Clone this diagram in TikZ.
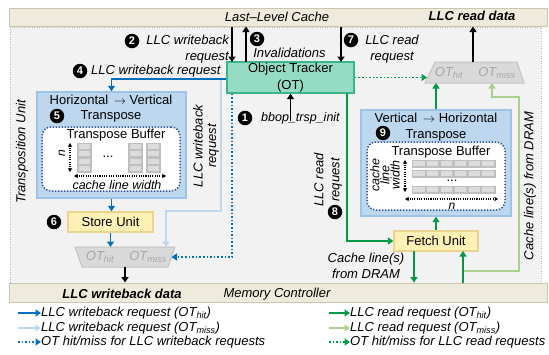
\documentclass[tikz,border=0pt]{standalone}
\usepackage{fontspec}
\setmainfont{Liberation Sans}
\usetikzlibrary{arrows.meta}
\definecolor{bandfill}{HTML}{EEEBDC}
\definecolor{banddraw}{HTML}{CBC6B0}
\definecolor{areafill}{HTML}{F2F2F2}
\definecolor{areadraw}{HTML}{BDBDBD}
\definecolor{otfill}{HTML}{96DCC4}
\definecolor{otdraw}{HTML}{3AB689}
\definecolor{tbfill}{HTML}{BDD7EE}
\definecolor{tbdraw}{HTML}{9DC3E6}
\definecolor{sufill}{HTML}{FFF1B5}
\definecolor{sudraw}{HTML}{EBD58C}
\definecolor{muxfill}{HTML}{D9D9D9}
\definecolor{muxdraw}{HTML}{C4C4C4}
\definecolor{muxtext}{HTML}{A6A6A6}
\definecolor{wbblue}{HTML}{0070C0}
\definecolor{wblight}{HTML}{BDD7EE}
\definecolor{rdgreen}{HTML}{009A47}
\definecolor{rdlight}{HTML}{A9D18E}
\definecolor{bufdot}{HTML}{2F5597}
\definecolor{cellfill}{HTML}{DCDCDC}
\definecolor{celldraw}{HTML}{BFBFBF}
\begin{document}
\begin{tikzpicture}[x=1pt,y=-1pt,
  font=\fontsize{13}{15}\selectfont,
  >={Triangle[length=5.5pt,width=7pt]},
  every node/.style={inner sep=0pt},
  unitbox/.style={draw, line width=1.4pt, align=center},
  numc/.style={circle, fill=black, text=white, minimum size=14.5pt, font=\fontsize{11}{11}\selectfont\bfseries},
  itl/.style={font=\fontsize{13}{16}\selectfont\itshape, align=center},
  bolditl/.style={font=\fontsize{13}{15}\selectfont\bfseries\itshape},
  muxtxt/.style={font=\fontsize{13}{15}\selectfont\itshape, text=muxtext},
  wbarr/.style={draw=wbblue, line width=1.8pt, ->},
  wblarr/.style={draw=wblight, line width=1.8pt, ->},
  wbdot/.style={draw=wbblue, line width=1.8pt, dash pattern=on 1.6pt off 2pt, ->},
  rdarr/.style={draw=rdgreen, line width=1.8pt, ->},
  rdlarr/.style={draw=rdlight, line width=1.8pt, ->},
  rddot/.style={draw=rdgreen, line width=1.8pt, dash pattern=on 1.6pt off 2pt, ->},
  blkarr/.style={draw=black, line width=1.5pt, ->},
  dimarr/.style={line width=1.1pt, dash pattern=on 1.1pt off 1.2pt, {Stealth[length=4pt,width=4.5pt]}-{Stealth[length=4pt,width=4.5pt]}},
  cellbg/.style={fill=celldraw, draw=celldraw, line width=0.6pt},
  cell/.style={fill=cellfill, draw=none},
  band/.style={fill=bandfill, draw=banddraw, line width=1pt, minimum width=538pt},
  bufbox/.style={draw=bufdot, fill=white, line width=1.5pt, dash pattern=on 1.4pt off 1.6pt, rounded corners=9pt}
]
\useasboundingbox (0,0) rectangle (549,354);

% background area and bands
\node[fill=areafill, draw=areadraw, line width=0.8pt, dash pattern=on 1pt off 1.5pt, minimum width=531pt, minimum height=256pt] (area) at (275.5,155) {};
\node[band, minimum height=18pt] (llc) at (278,17) {};
\node[band, minimum height=19pt] (mc) at (278,292.5) {};
\node[itl] (llct) at (277,17) {Last\textendash Level Cache};
\node[bolditl] (rdd) at (472,16) {LLC read data};
\node[bolditl] (wbd) at (122,294) {LLC writeback data};
\node[itl] (mct) at (277,294) {Memory Controller};

% transposition unit label
\node[itl, rotate=90] (tul) at (22,152) {Transposition Unit};

% Object tracker
\node[unitbox, fill=otfill, draw=otdraw, minimum width=127pt, minimum height=31pt, font=\fontsize{13}{17}\selectfont] (ot) at (290.5,77.5) {Object Tracker\\(OT)};

% Horizontal -> Vertical transpose
\node[unitbox, fill=tbfill, draw=tbdraw, minimum width=149pt, minimum height=106pt] (hv) at (111.5,145) {};
\node (hvt1) at (111,100) {Horizontal\, $\rightarrow$ Vertical};
\node (hvt2) at (111,116) {Transpose};
\node[numc] (n5) at (57,116) {5};
\node[bufbox, minimum width=138pt, minimum height=64pt] (hvb) at (111,159) {};
\node (hvbt) at (116,135) {Transpose Buffer};
\foreach \sx in {77,128,146} {
  \draw[cellbg] (\sx,143) rectangle (\sx+14,172);
  \foreach \k in {0,...,3} {
    \fill[cell] (\sx+1.5,143+\k*7.25+1.2) rectangle (\sx+12.5,143+\k*7.25+6.2);
  }
}
\node (hvdots) at (108,157) {...};
\node[font=\fontsize{12}{12}\selectfont\itshape, rotate=90] (hvn) at (62,153) {n};
\coordinate (hvd1) at (70,143);
\coordinate (hvd2) at (70,172);
\draw[dimarr] (hvd1) -- (hvd2);
\coordinate (hvw1) at (74,176);
\coordinate (hvw2) at (166,176);
\draw[dimarr] (hvw1) -- (hvw2);
\node[font=\fontsize{12.5}{14}\selectfont\itshape] (hvwt) at (117,185) {cache line width};

% Store unit
\node[unitbox, fill=sufill, draw=sudraw, minimum width=85pt, minimum height=20pt] (su) at (110.5,222) {Store Unit};
\node[numc] (n6) at (54,222) {6};

% writeback mux
\draw[fill=muxfill, draw=muxdraw, line width=1pt] (75,247) -- (175,247) -- (168,267) -- (82,267) -- cycle;
\node[muxtxt] (wbh) at (100,257) {OT\textsubscript{hit}};
\node[muxtxt] (wbm) at (148,257) {OT\textsubscript{miss}};
\coordinate (wbmB) at (125,267);
\coordinate (wbmR) at (171.5,257);
\coordinate (lbt) at (166,247);

% Vertical -> Horizontal transpose
\node[unitbox, fill=tbfill, draw=tbdraw, minimum width=150pt, minimum height=106pt] (vh) at (436,163) {};
\node (vht1) at (436,118) {Vertical\, $\rightarrow$ Horizontal};
\node (vht2) at (436,135) {Transpose};
\node[numc] (n9) at (383,133) {9};
\node[bufbox, minimum width=138pt, minimum height=68pt] (vhb) at (436,176) {};
\node (vhbt) at (441,152) {Transpose Buffer};
\foreach \ry in {160,170,186} {
  \draw[cellbg] (412,\ry) rectangle (495,\ry+7.5);
  \foreach \i in {0,...,5} {
    \fill[cell] (412+\i*13.83+1.2,\ry+1.2) rectangle (412+\i*13.83+12.6,\ry+6.3);
  }
}
\node (vhdots) at (452,181) {...};
\node[font=\fontsize{12.5}{9}\selectfont\itshape, rotate=90, align=center] (vhcl) at (385,175) {cache\\line\\width};
\coordinate (vhd1) at (405,160);
\coordinate (vhd2) at (405,192);
\draw[dimarr] (vhd1) -- (vhd2);
\coordinate (vhw1) at (405,199);
\coordinate (vhw2) at (498,199);
\draw[dimarr] (vhw1) -- (vhw2);
\node[font=\fontsize{12}{12}\selectfont\itshape] (vhn) at (452,206) {n};

% Fetch unit
\node[unitbox, fill=sufill, draw=sudraw, minimum width=84pt, minimum height=20pt] (fu) at (436,241) {Fetch Unit};

% read mux
\draw[fill=muxfill, draw=muxdraw, line width=1pt] (435,62) -- (517,62) -- (524,83) -- (425,83) -- cycle;
\node[muxtxt] (rdh) at (449,73) {OT\textsubscript{hit}};
\node[muxtxt] (rdm) at (497,73) {OT\textsubscript{miss}};
\coordinate (rdmT) at (473,62);
\coordinate (rdmB) at (436,83);
\coordinate (rdmL) at (427,77.5);
\coordinate (lgt) at (492,83);

% labels
\node[numc] (n2) at (132,41) {2};
\node[itl, anchor=east, align=right] (l2) at (229,49) {LLC writeback\\request};
\node[numc] (n3) at (257,39) {3};
\node[itl] (l3) at (289.5,53) {Invalidations};
\node[numc] (n7) at (351,40) {7};
\node[itl] (l7) at (392,49) {LLC read\\request};
\node[numc] (n4) at (80,71) {4};
\node[itl, anchor=west] (l4) at (91,71) {LLC writeback request};
\node[numc] (n1) at (245,118) {1};
\node[itl, anchor=west, font=\fontsize{12.5}{15}\selectfont\itshape] (l1) at (261,118) {bbop\_trsp\_init};
\node[itl, rotate=90, font=\fontsize{13}{13.5}\selectfont\itshape] (lwb) at (206,146) {LLC writeback\\request};
\node[itl, rotate=90] (l8) at (328,180) {LLC read\\request};
\node[numc] (n8) at (335,212) {8};
\node[itl] (ldr) at (366,266) {Cache line(s)\\from DRAM};
\node[itl, rotate=90] (ldr2) at (530,186) {Cache line(s) from DRAM};

% coordinates for connectors
\coordinate (c2) at (232,62);
\coordinate (c3) at (246,62);
\coordinate (c7) at (341,62);
\coordinate (c1) at (290.5,121);
\coordinate (c8) at (347,93);
\coordinate (lbj) at (221,79);
\coordinate (lbk) at (166,211);
\coordinate (fl) at (414,251);
\coordinate (fr) at (463,251);
\coordinate (lgj) at (463,271);
\coordinate (lgc) at (519,97);

% writeback connectors
\draw[wblarr] (lbj) |- (lbk) -- (lbt);
\draw[wbarr] (ot.west |- lbj) -| (hv.north);
\draw[wbarr] (hv.south) -- (hv.south |- su.north);
\draw[wbarr] (su.south) -- (su.south |- lbt);
\draw[wbdot] (c2 |- ot.south) |- (wbmR);
\draw[blkarr] (wbmB) -- (wbmB |- mc.north);

% black LLC connectors
\draw[blkarr] (c2 |- llc.south) -- (c2);
\draw[blkarr] (c3) -- (c3 |- llc.south);
\draw[blkarr] (c7 |- llc.south) -- (c7);
\draw[blkarr] (c1) -- (ot.south);
\draw[blkarr] (rdmT) -- (rdmT |- llc.south);

% read connectors
\draw[rdlarr] (lgj) -| (lgc) -| (lgt);
\draw[rdarr] (c8) |- (fu.west);
\draw[rddot] (ot.east) -- (rdmL);
\draw[rdarr] (fu.north) -- (fu.north |- vh.south);
\draw[rdarr] (vh.north) -- (rdmB);
\draw[rdarr] (fr |- mc.north) -- (fr);
\draw[rdarr] (fl) -- (fl |- mc.north);

% legend
\node[itl, anchor=west] (lg1) at (41,313) {LLC writeback request (OT\textsubscript{hit})};
\node[itl, anchor=west] (lg2) at (41,328) {LLC writeback request (OT\textsubscript{miss})};
\node[itl, anchor=west] (lg3) at (41,342) {OT hit/miss for LLC writeback requests};
\node[itl, anchor=west] (lg4) at (350,313) {LLC read request (OT\textsubscript{hit})};
\node[itl, anchor=west] (lg5) at (350,328) {LLC read request (OT\textsubscript{miss})};
\node[itl, anchor=west] (lg6) at (350,342) {OT hit/miss for LLC read requests};
\draw[wbarr] ([xshift=-23pt]lg1.west) -- (lg1.west);
\draw[wblarr] ([xshift=-23pt]lg2.west) -- (lg2.west);
\draw[wbdot] ([xshift=-23pt]lg3.west) -- (lg3.west);
\draw[rdarr] ([xshift=-21pt]lg4.west) -- (lg4.west);
\draw[rdlarr] ([xshift=-21pt]lg5.west) -- (lg5.west);
\draw[rddot] ([xshift=-21pt]lg6.west) -- (lg6.west);
\end{tikzpicture}
\end{document}
